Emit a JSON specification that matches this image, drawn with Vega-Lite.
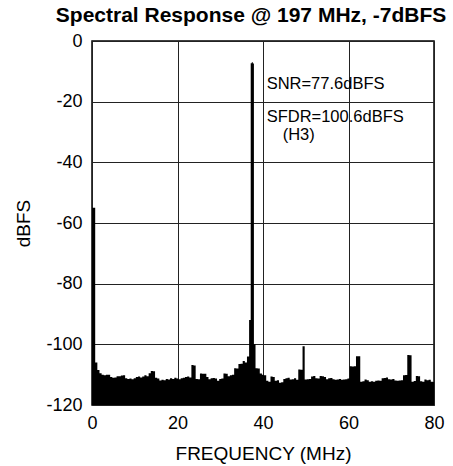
{
  "$schema": "https://vega.github.io/schema/vega-lite/v6.json",
  "width": 342,
  "height": 364,
  "autosize": {"type": "none"},
  "padding": {"left": 92, "top": 41, "right": 19, "bottom": 61},
  "background": "white",
  "config": {
    "font": "Liberation Sans",
    "view": {"stroke": "black", "strokeWidth": 1.5},
    "axis": {
      "labelFont": "Liberation Sans",
      "titleFont": "Liberation Sans",
      "labelColor": "black",
      "titleColor": "black",
      "labelFontSize": 18,
      "titleFontSize": 19,
      "titleFontWeight": "normal",
      "domain": false,
      "ticks": false,
      "grid": true,
      "gridColor": "#222222",
      "gridWidth": 1,
      "gridOpacity": 1
    }
  },
  "title": {
    "text": "Spectral Response @ 197 MHz, -7dBFS",
    "font": "Liberation Sans",
    "fontSize": 21,
    "fontWeight": "bold",
    "color": "black",
    "anchor": "middle",
    "dx": -12,
    "offset": 6
  },
  "datasets": {
    "spec": [
      {"f": 0, "db": -55}, {"f": 0.5, "db": -55}, {"f": 1.0, "db": -106}, {"f": 1.5, "db": -108.5},
      {"f": 2.0, "db": -109.5}, {"f": 2.5, "db": -110}, {"f": 3.0, "db": -110.2}, {"f": 3.5, "db": -110},
      {"f": 4.0, "db": -110}, {"f": 4.5, "db": -110.8}, {"f": 5.0, "db": -111}, {"f": 5.5, "db": -110.9},
      {"f": 6.0, "db": -110.5}, {"f": 6.5, "db": -110.5}, {"f": 7.0, "db": -110.3}, {"f": 7.5, "db": -110.2},
      {"f": 8.0, "db": -111.2}, {"f": 8.5, "db": -111.4}, {"f": 9.0, "db": -111.3}, {"f": 9.5, "db": -111.5},
      {"f": 10.0, "db": -111.2}, {"f": 10.5, "db": -110.8}, {"f": 11.0, "db": -110.6}, {"f": 11.5, "db": -110.9},
      {"f": 12.0, "db": -110.6}, {"f": 12.5, "db": -110.2}, {"f": 13.0, "db": -110.5}, {"f": 13.5, "db": -109.5},
      {"f": 14.0, "db": -108.8}, {"f": 14.5, "db": -108.9}, {"f": 15.0, "db": -111}, {"f": 15.5, "db": -111.3},
      {"f": 16.0, "db": -111.9}, {"f": 16.5, "db": -111.7}, {"f": 17.0, "db": -111.8}, {"f": 17.5, "db": -111.4},
      {"f": 18.0, "db": -111.6}, {"f": 18.5, "db": -111.2}, {"f": 19.0, "db": -111.4}, {"f": 19.5, "db": -111},
      {"f": 20.0, "db": -111.3}, {"f": 20.5, "db": -111.5}, {"f": 21.0, "db": -111.2}, {"f": 21.5, "db": -111},
      {"f": 22.0, "db": -110.8}, {"f": 22.5, "db": -110.6}, {"f": 23.0, "db": -110.9}, {"f": 23.5, "db": -106.8},
      {"f": 24.0, "db": -107}, {"f": 24.5, "db": -111.4}, {"f": 25.0, "db": -111.5}, {"f": 25.5, "db": -109.6},
      {"f": 26.0, "db": -109.7}, {"f": 26.5, "db": -109.7}, {"f": 27.0, "db": -110.8}, {"f": 27.5, "db": -111.5},
      {"f": 28.0, "db": -111.2}, {"f": 28.5, "db": -111.1}, {"f": 29.0, "db": -111.3}, {"f": 29.5, "db": -112},
      {"f": 30.0, "db": -111.4}, {"f": 30.5, "db": -111.3}, {"f": 31.0, "db": -109.6}, {"f": 31.5, "db": -109.7},
      {"f": 32.0, "db": -110.5}, {"f": 32.5, "db": -110.2}, {"f": 33.0, "db": -110}, {"f": 33.5, "db": -107.9},
      {"f": 34.0, "db": -108}, {"f": 34.5, "db": -106.5}, {"f": 35.0, "db": -106.4}, {"f": 35.5, "db": -105.5},
      {"f": 36.0, "db": -106}, {"f": 36.5, "db": -104}, {"f": 37.0, "db": -92}, {"f": 37.25, "db": -7.3},
      {"f": 37.5, "db": -7}, {"f": 37.75, "db": -7.4}, {"f": 38.0, "db": -100}, {"f": 38.5, "db": -107.9},
      {"f": 39.0, "db": -108}, {"f": 39.5, "db": -109.6}, {"f": 40.0, "db": -110}, {"f": 40.5, "db": -110.2},
      {"f": 41.0, "db": -112}, {"f": 41.5, "db": -112.3}, {"f": 42.0, "db": -110.6}, {"f": 42.5, "db": -110.8},
      {"f": 43.0, "db": -112}, {"f": 43.5, "db": -111.8}, {"f": 44.0, "db": -112.7}, {"f": 44.5, "db": -112.5},
      {"f": 45.0, "db": -111.4}, {"f": 45.5, "db": -111.2}, {"f": 46.0, "db": -111}, {"f": 46.5, "db": -111.6},
      {"f": 47.0, "db": -111.5}, {"f": 47.5, "db": -111.2}, {"f": 48.0, "db": -111.7}, {"f": 48.5, "db": -108.3},
      {"f": 49.0, "db": -108.4}, {"f": 49.5, "db": -100.6}, {"f": 50.0, "db": -111.6}, {"f": 50.5, "db": -111.5},
      {"f": 51.0, "db": -111.4}, {"f": 51.5, "db": -110.6}, {"f": 52.0, "db": -110.4}, {"f": 52.5, "db": -111.2},
      {"f": 53.0, "db": -111.3}, {"f": 53.5, "db": -110.4}, {"f": 54.0, "db": -110.5}, {"f": 54.5, "db": -110.8},
      {"f": 55.0, "db": -111.5}, {"f": 55.5, "db": -111.2}, {"f": 56.0, "db": -111.1}, {"f": 56.5, "db": -111.5},
      {"f": 57.0, "db": -111.7}, {"f": 57.5, "db": -111.6}, {"f": 58.0, "db": -111.4}, {"f": 58.5, "db": -111.7},
      {"f": 59.0, "db": -111.6}, {"f": 59.5, "db": -111.5}, {"f": 60.0, "db": -111.3}, {"f": 60.5, "db": -107.2},
      {"f": 61.0, "db": -107.3}, {"f": 61.5, "db": -107.2}, {"f": 62.0, "db": -103.9}, {"f": 62.5, "db": -103.9},
      {"f": 63.0, "db": -112.3}, {"f": 63.5, "db": -112.2}, {"f": 64.0, "db": -111.6}, {"f": 64.5, "db": -111.8},
      {"f": 65.0, "db": -112.3}, {"f": 65.5, "db": -112.2}, {"f": 66.0, "db": -112.3}, {"f": 66.5, "db": -112},
      {"f": 67.0, "db": -111.9}, {"f": 67.5, "db": -112}, {"f": 68.0, "db": -111.2}, {"f": 68.5, "db": -111.1},
      {"f": 69.0, "db": -110.9}, {"f": 69.5, "db": -111.5}, {"f": 70.0, "db": -111.6}, {"f": 70.5, "db": -111.4},
      {"f": 71.0, "db": -111.9}, {"f": 71.5, "db": -112}, {"f": 72.0, "db": -111.9}, {"f": 72.5, "db": -111.8},
      {"f": 73.0, "db": -110.2}, {"f": 73.5, "db": -110.1}, {"f": 74.0, "db": -103.5}, {"f": 74.5, "db": -103.6},
      {"f": 75.0, "db": -112.3}, {"f": 75.5, "db": -112.1}, {"f": 76.0, "db": -110.4}, {"f": 76.5, "db": -110.5},
      {"f": 77.0, "db": -112.2}, {"f": 77.5, "db": -112.3}, {"f": 78.0, "db": -111.6}, {"f": 78.5, "db": -111.8},
      {"f": 79.0, "db": -111.7}, {"f": 79.5, "db": -112.3}, {"f": 80.0, "db": -112.4}
    ],
    "notes": [
      {"f": 40.85, "db": -15.9, "label": "SNR=77.6dBFS"},
      {"f": 40.85, "db": -26.6, "label": "SFDR=100.6dBFS"},
      {"f": 44.6, "db": -32.6, "label": "(H3)"}
    ]
  },
  "layer": [
    {
      "data": {"name": "spec"},
      "mark": {"type": "area", "interpolate": "step", "color": "black", "clip": true},
      "encoding": {
        "x": {
          "field": "f", "type": "quantitative",
          "scale": {"domain": [0, 80], "nice": false, "zero": false},
          "axis": {"values": [0, 20, 40, 60, 80], "title": "FREQUENCY (MHz)", "labelPadding": 9, "titlePadding": 12, "labelFlush": false}
        },
        "y": {
          "field": "db", "type": "quantitative",
          "scale": {"domain": [-120, 0], "nice": false},
          "axis": {"values": [0, -20, -40, -60, -80, -100, -120], "title": "dBFS", "labelPadding": 10, "titlePadding": 12, "labelExpr": "'' + datum.value", "labelFlush": false}
        },
        "y2": {"datum": -120}
      }
    },
    {
      "data": {"name": "notes"},
      "mark": {"type": "text", "align": "left", "baseline": "alphabetic", "font": "Liberation Sans", "fontSize": 16.5, "color": "black"},
      "encoding": {
        "x": {"field": "f", "type": "quantitative"},
        "y": {"field": "db", "type": "quantitative"},
        "text": {"field": "label"}
      }
    }
  ]
}
